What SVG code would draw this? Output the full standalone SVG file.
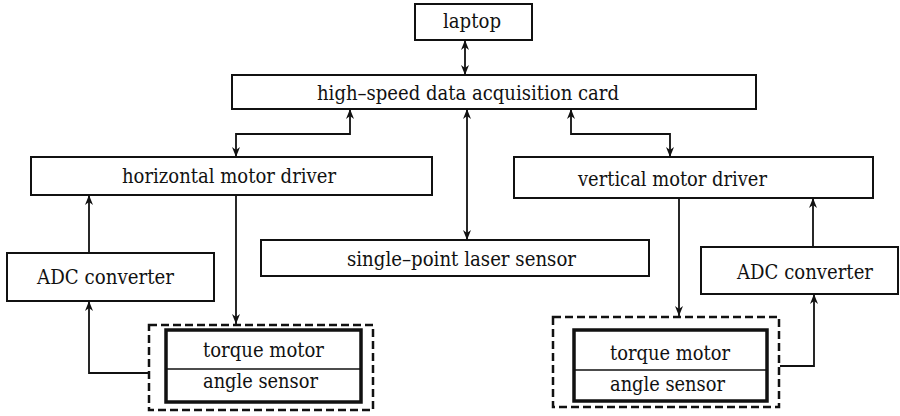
<svg xmlns="http://www.w3.org/2000/svg" width="900" height="416" viewBox="0 0 900 416">
<style>
.box{fill:none;stroke:#111;stroke-width:2}
.thick{fill:none;stroke:#111;stroke-width:3.5}
.dash{fill:none;stroke:#111;stroke-width:2.5;stroke-dasharray:8 4}
.div{stroke:#111;stroke-width:1.5}
text{font-family:'DejaVu Serif','Liberation Serif',serif;font-size:21px;fill:#111}
.c{fill:none;stroke:#111;stroke-width:1.8}
.e{marker-end:url(#ah)}
.b{marker-start:url(#ah);marker-end:url(#ah)}
</style>
<defs>
<marker id="ah" viewBox="0 0 10 8" refX="10" refY="4" markerWidth="10" markerHeight="8" markerUnits="userSpaceOnUse" orient="auto-start-reverse">
<path d="M0,0 L10,4 L0,8 L3,4 z" fill="#111"/>
</marker>
</defs>
<rect width="900" height="416" fill="#fff"/>
<g id="laptop">
<rect class="box" x="415" y="4" width="117" height="36"/>
<text x="443" y="28" textLength="58" lengthAdjust="spacingAndGlyphs">laptop</text>
</g>
<g id="card">
<rect class="box" x="232" y="75" width="524" height="34"/>
<text x="317" y="100" textLength="302" lengthAdjust="spacingAndGlyphs">high–speed data acquisition card</text>
</g>
<g id="hdriver">
<rect class="box" x="31" y="157" width="401" height="38"/>
<text x="122" y="183" textLength="214" lengthAdjust="spacingAndGlyphs">horizontal motor driver</text>
</g>
<g id="vdriver">
<rect class="box" x="514" y="157" width="359" height="41"/>
<text x="578" y="186" textLength="189" lengthAdjust="spacingAndGlyphs">vertical motor driver</text>
</g>
<g id="laser">
<rect class="box" x="261" y="240" width="388" height="36"/>
<text x="347" y="266" textLength="229" lengthAdjust="spacingAndGlyphs">single–point laser sensor</text>
</g>
<g id="adc-left">
<rect class="box" x="7" y="253" width="207" height="48"/>
<text x="37" y="284" textLength="137" lengthAdjust="spacingAndGlyphs">ADC converter</text>
</g>
<g id="adc-right">
<rect class="box" x="701" y="247" width="197" height="47"/>
<text x="737" y="279" textLength="136" lengthAdjust="spacingAndGlyphs">ADC converter</text>
</g>
<g id="motor-left">
<rect class="dash" x="149" y="325" width="224" height="85"/>
<rect class="thick" x="166" y="330" width="195" height="72"/>
<line class="div" x1="166" y1="369" x2="361" y2="369"/>
<text x="203" y="357" textLength="121" lengthAdjust="spacingAndGlyphs">torque motor</text>
<text x="203" y="388" textLength="115" lengthAdjust="spacingAndGlyphs">angle sensor</text>
</g>
<g id="motor-right">
<rect class="dash" x="553" y="317" width="226" height="90"/>
<rect class="thick" x="574" y="330" width="193" height="71"/>
<line class="div" x1="574" y1="370" x2="767" y2="370"/>
<text x="610" y="360" textLength="120" lengthAdjust="spacingAndGlyphs">torque motor</text>
<text x="610" y="391" textLength="115" lengthAdjust="spacingAndGlyphs">angle sensor</text>
</g>
<g id="connectors">
<path class="c b" d="M465,40 L465,75"/>
<path class="c b" d="M350,109 L350,134 L236,134 L236,157"/>
<path class="c b" d="M467,109 L467,240"/>
<path class="c b" d="M571,109 L571,134 L670,134 L670,157"/>
<path class="c e" d="M236,195 L236,324"/>
<path class="c e" d="M89,253 L89,195"/>
<path class="c e" d="M148,373 L89,373 L89,301"/>
<path class="c e" d="M679,198 L679,316"/>
<path class="c e" d="M813,247 L813,198"/>
<path class="c e" d="M780,366 L814,366 L814,294"/>
</g>
</svg>
